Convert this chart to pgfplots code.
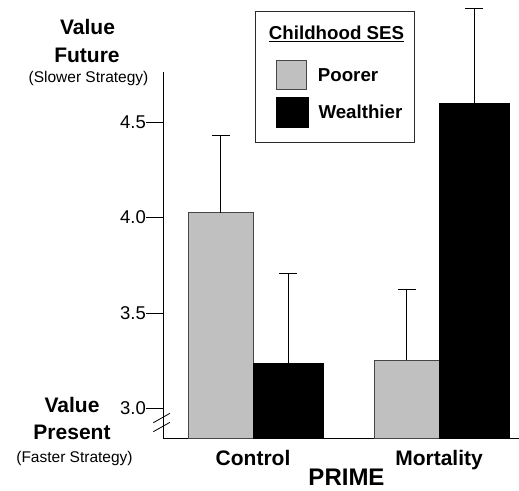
\documentclass[border=0pt]{standalone}
\usepackage{pgfplots}
\pgfplotsset{compat=1.18}
\usepackage{fontspec}
\setmainfont{Liberation Sans}
\definecolor{barGray}{RGB}{192,192,192}
\definecolor{edgeGray}{RGB}{70,70,70}
\newcommand{\bigbf}{\fontsize{21}{24}\selectfont\bfseries}
\newcommand{\legbf}{\fontsize{18.7}{22}\selectfont\bfseries}
\newcommand{\smallt}{\fontsize{15.5}{18}\selectfont}
\newcommand{\tickf}{\fontsize{18.5}{20}\selectfont}
\begin{document}
\begin{tikzpicture}
\useasboundingbox (-163pt,-52pt) rectangle (356pt,438pt);
\begin{axis}[
  at={(0pt,0pt)}, anchor=south west,
  scale only axis, width=356pt, height=434.3pt,
  xmin=-0.484, xmax=1.430, ymin=2.846, ymax=5.12,
  axis x line*=bottom, axis y line*=left,
  axis line style={-, line width=0.8pt, black},
  y axis line style={draw=none},
  xtick={0,1}, xticklabels={Control,Mortality},
  xticklabel style={font=\bigbf, anchor=base, yshift=-10pt, inner sep=0pt},
  major x tick style={draw=none},
  ytick={3,3.5,4,4.5}, yticklabels={3.0,3.5,4.0,4.5},
  yticklabel style={font=\tickf, inner sep=0pt},
  tick align=outside, major tick length=17pt,
  major y tick style={line width=0.8pt, black},
  minor tick num=0,
]
% Poorer (gray) bars, plotted at their own x positions within each group
\addplot[ybar, bar width=0.345, bar shift=0pt, fill=barGray, draw=edgeGray, line width=0.8pt,
  error bars/.cd, y dir=plus, y explicit,
  error bar style={black, line width=0.9pt},
  error mark options={rotate=90, mark size=9pt, black, line width=0.9pt}]
  coordinates {(-0.1725,4.026) +- (0,0.403) (0.8275,3.254) +- (0,0.372)};
% Wealthier (black) bars
\addplot[ybar, bar width=0.38, bar shift=0pt, fill=black, draw=black, line width=0.8pt,
  error bars/.cd, y dir=plus, y explicit,
  error bar style={black, line width=0.9pt},
  error mark options={rotate=90, mark size=9pt, black, line width=0.9pt}]
  coordinates {(0.19,3.235) +- (0,0.471) (1.19,4.598) +- (0,0.497)};
\end{axis}
% left axis line and break
\draw[line width=0.8pt] (0pt,0pt) -- (0pt,366pt);
\draw[line width=0.8pt] (-9.7pt,15.3pt) -- (7pt,24.7pt);
\draw[line width=0.8pt] (-9.7pt,6.3pt) -- (7pt,15.7pt);
% y-axis annotations
\node[anchor=base, inner sep=0pt, font=\bigbf] at (-75.5pt,403pt) {Value};
\node[anchor=base, inner sep=0pt, font=\bigbf] at (-76pt,375pt) {Future};
\node[anchor=base, inner sep=0pt, font=\smallt] at (-74.5pt,355pt) {(Slower Strategy)};
\node[anchor=base, inner sep=0pt, font=\bigbf] at (-91pt,26pt) {Value};
\node[anchor=base, inner sep=0pt, font=\bigbf] at (-91pt,-1pt) {Present};
\node[anchor=base, inner sep=0pt, font=\smallt] at (-88.5pt,-24pt) {(Faster Strategy)};
\node[anchor=base, inner sep=0pt, font=\fontsize{24}{28}\selectfont\bfseries] at (183.5pt,-47.5pt) {PRIME};
% legend
\draw[line width=0.8pt, edgeGray!60!black, fill=white] (92pt,296pt) rectangle (251pt,427pt);
\node[anchor=base, inner sep=0pt, font=\legbf] at (173.5pt,398pt) {\underline{Childhood SES}};
\draw[line width=0.8pt, edgeGray, fill=barGray] (113pt,348.7pt) rectangle (143.7pt,378pt);
\draw[line width=0.8pt, black, fill=black] (113.7pt,310.3pt) rectangle (145.3pt,340.3pt);
\node[anchor=base west, inner sep=0pt, font=\legbf] at (154.7pt,356.3pt) {Poorer};
\node[anchor=base west, inner sep=0pt, font=\legbf] at (155.3pt,319pt) {Wealthier};
\end{tikzpicture}
\end{document}
